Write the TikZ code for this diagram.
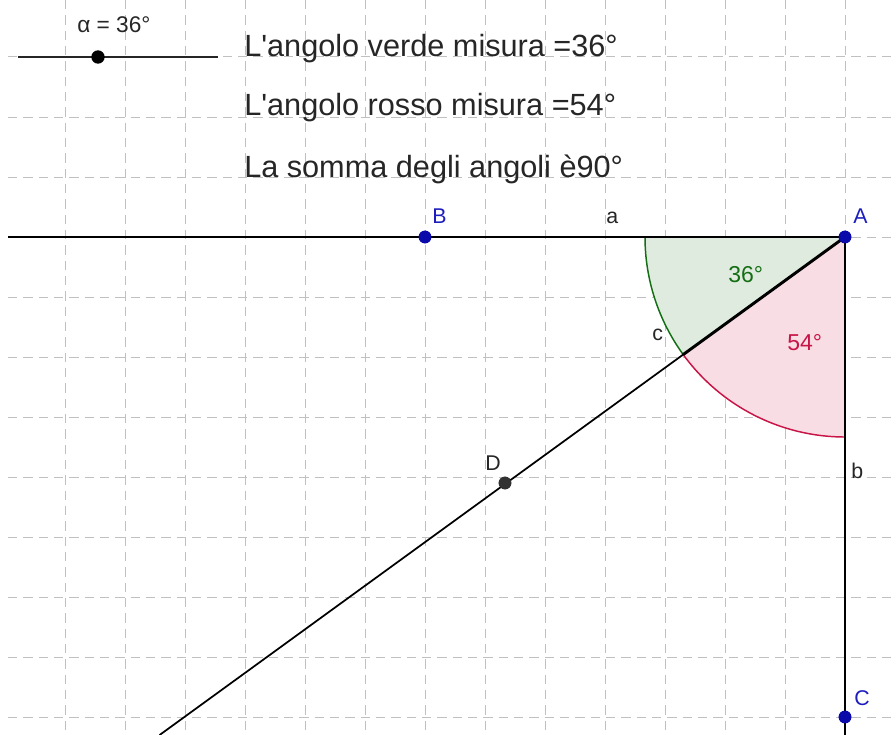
\documentclass[tikz,border=0pt]{standalone}
\usepackage{fontspec}
\setmainfont{Liberation Sans}
\usetikzlibrary{calc}
\definecolor{gridgray}{RGB}{192,192,192}
\definecolor{angG}{RGB}{20,110,20}
\definecolor{fillG}{RGB}{222,235,222}
\definecolor{angR}{RGB}{200,20,70}
\definecolor{fillR}{RGB}{248,222,228}
\definecolor{ptblue}{RGB}{10,10,170}
\definecolor{lblblue}{RGB}{30,30,190}
\definecolor{ptdark}{RGB}{50,50,50}
\begin{document}
\begin{tikzpicture}[x=0.75pt,y=-0.75pt,
  gridline/.style={gridgray,line width=0.75pt,dash pattern=on 7pt off 4.5pt},
  geoline/.style={black,line width=1.3pt},
  pt/.style={circle,inner sep=0pt,minimum size=9.5pt,draw=none},
  lbl/.style={anchor=base west,inner sep=0pt,font=\fontsize{16}{19}\selectfont},
  maintext/.style={anchor=base west,inner sep=0pt,font=\fontsize{23}{27}\selectfont,text=black!85},
  anglbl/.style={anchor=base west,inner sep=0pt,font=\fontsize{17.25}{20}\selectfont}]
\useasboundingbox (0,0) rectangle (896,735);
\fill[white] (0,0) rectangle (896,735);
% grid
\foreach \gx in {65,125,...,845} {\draw[gridline] (\gx,0) -- (\gx,735);}
\foreach \gy in {57,117,...,717} {\draw[gridline] (8,\gy) -- (896,\gy);}
% sectors (y axis points down, so angles are mirrored)
\fill[fillG] (845,237) -- ++(180:200) arc[start angle=180,end angle=144,radius=200] -- cycle;
\fill[fillR] (845,237) -- ++(144:200) arc[start angle=144,end angle=90,radius=200] -- cycle;
\draw[angG,line width=1.1pt] (845,237) ++(180:200) arc[start angle=180,end angle=144,radius=200];
\draw[angR,line width=1.1pt] (845,237) ++(144:200) arc[start angle=144,end angle=90,radius=200];
% points
\node[pt,fill=ptblue] (A) at (845,237) {};
\node[pt,fill=ptblue] (B) at (425,237) {};
\node[pt,fill=ptblue] (C) at (845,717) {};
\node[pt,fill=ptdark] (D) at (505,483) {};
\coordinate (aend) at (8,237);
\coordinate (bend) at (845,735);
\coordinate (cend) at (159.6,735);
\coordinate (cint) at ($(845,237)+(144:200)$);
% lines
\draw[geoline] (A.center) -- (aend);
\draw[geoline] (A.center) -- (bend);
\draw[geoline] (A.center) -- (cend);
\draw[black,line width=2.2pt] (A.center) -- (cint);
% redraw points on top
\node[pt,fill=ptblue] at (A) {};
\node[pt,fill=ptblue] at (B) {};
\node[pt,fill=ptblue] at (C) {};
\node[pt,fill=ptdark] at (D) {};
% labels
\node[lbl,text=lblblue] (lA) at (853,223) {A};
\node[lbl,text=lblblue] (lB) at (432,223) {B};
\node[lbl,text=lblblue] (lC) at (854,705) {C};
\node[lbl,text=black!85] (lD) at (485,470) {D};
\node[lbl,text=black!85] (la) at (606,223) {a};
\node[lbl,text=black!85] (lb) at (851,478) {b};
\node[lbl,text=black!85] (lc) at (652,340) {c};
\node[anglbl,text=angG] (g36) at (728,282) {36°};
\node[anglbl,text=angR] (r54) at (787,350) {54°};
% slider
\coordinate (s1) at (18,57);
\coordinate (s2) at (218,57);
\draw[black!85,line width=1.4pt] (s1) -- (s2);
\node[circle,inner sep=0pt,minimum size=10pt,fill=black] (sdot) at (98,57) {};
\node[anchor=base west,inner sep=0pt,font=\fontsize{17}{20}\selectfont,text=black!85] (alpha) at (77,33) {α = 36°};
% texts
\node[maintext] (t1) at (244,57) {L\textquotesingle angolo verde misura =36°};
\node[maintext] (t2) at (244,116) {L\textquotesingle angolo rosso misura =54°};
\node[maintext] (t3) at (244,177) {La somma degli angoli è90°};
\end{tikzpicture}
\end{document}
